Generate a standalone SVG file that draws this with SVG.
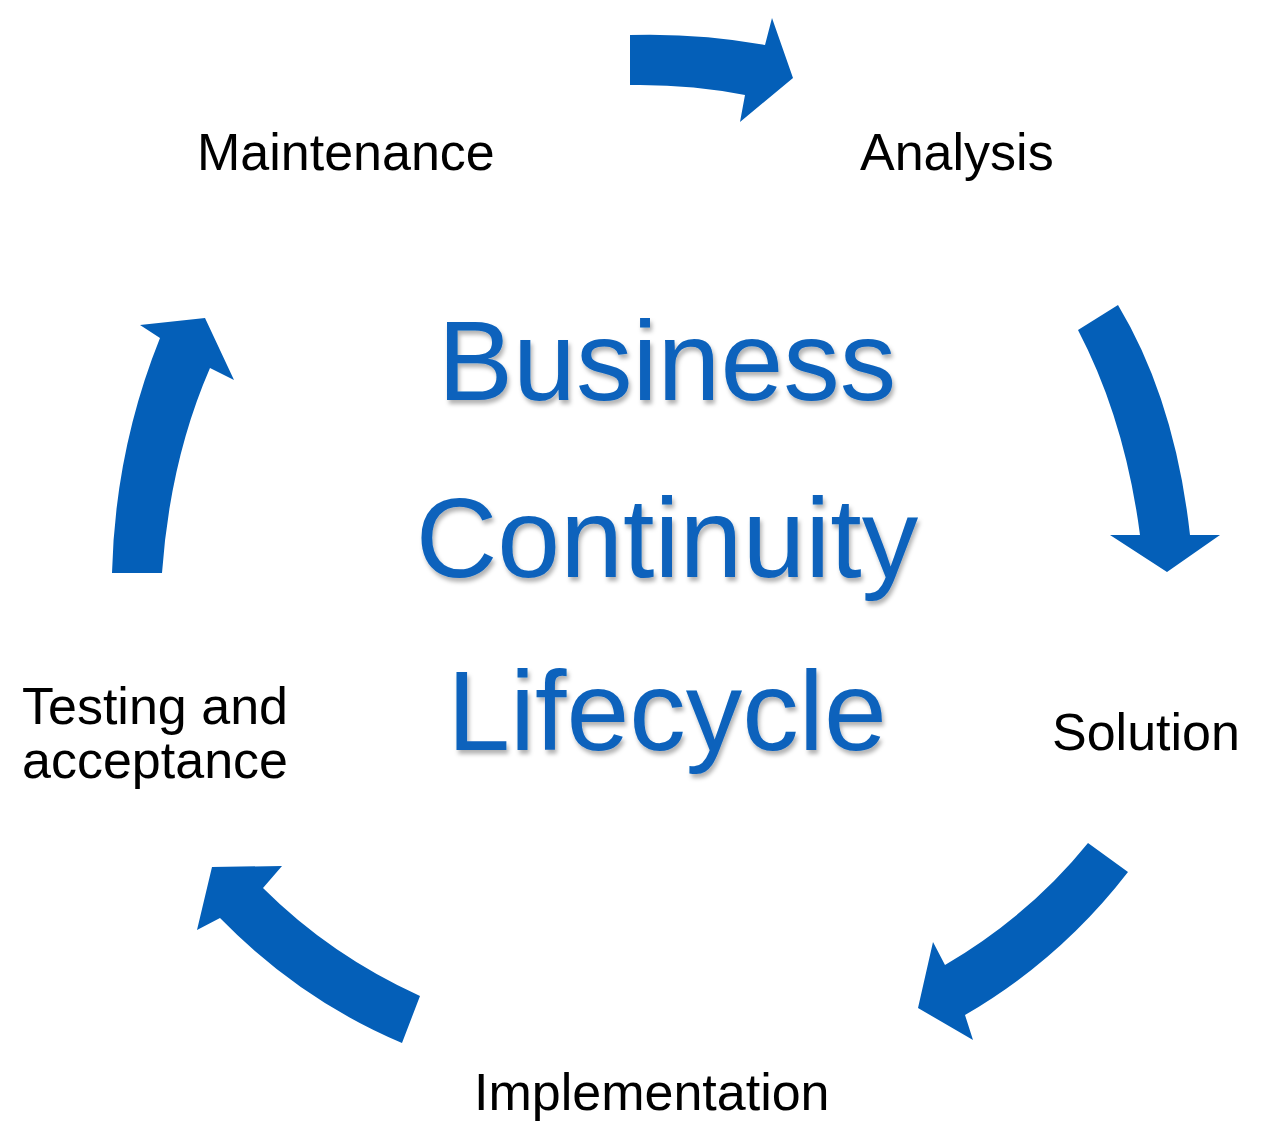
<svg xmlns="http://www.w3.org/2000/svg" width="1264" height="1127" viewBox="0 0 1264 1127">
<defs>
<style>
.arr{fill:#045FB8}
.lbl{font-family:"Liberation Sans",Arial,sans-serif;font-size:52px;fill:#000}
.title{font-family:"Liberation Sans",Arial,sans-serif;font-size:113px;fill:#0B62BC;text-anchor:middle}
</style>
<filter id="sh" x="-10%" y="-10%" width="120%" height="130%"><feDropShadow dx="2" dy="4" stdDeviation="2" flood-color="#000" flood-opacity="0.3"/></filter>
</defs>
<rect width="1264" height="1127" fill="#fff"/>
<g id="connectors">
<path class="arr" d="M630,35 Q700,33 765,45 L772,18 L793,78 L740,122 L745,95 Q690,84 630,85 Z"/>
<path class="arr" d="M1078,330 L1118,305 Q1175,400 1190,535 L1220,535 L1167,572 L1110,535 L1140,535 Q1125,420 1078,330 Z"/>
<path class="arr" d="M1088,843 L1128,872 Q1060,960 965,1015 L973,1040 L918,1008 L933,942 L945,965 Q1030,915 1088,843 Z"/>
<path class="arr" d="M420,996 L402,1043 Q300,1000 220,918 L197,930 L212,867 L282,866 L263,888 Q330,955 420,996 Z"/>
<path class="arr" d="M112,573 Q115,450 160,338 L140,325 L205,318 L234,380 L210,368 Q170,460 162,573 Z"/>
</g>
<g id="title" filter="url(#sh)">
<text class="title" x="667" y="400">Business</text>
<text class="title" x="667" y="577">Continuity</text>
<text class="title" x="667" y="750">Lifecycle</text>
</g>
<g id="maintenance"><text class="lbl" x="197" y="170">Maintenance</text></g>
<g id="analysis"><text class="lbl" x="860" y="170">Analysis</text></g>
<g id="solution"><text class="lbl" x="1052" y="750">Solution</text></g>
<g id="implementation"><text class="lbl" x="474" y="1110">Implementation</text></g>
<g id="testing"><text class="lbl" x="22" y="724">Testing and</text><text class="lbl" x="22" y="778">acceptance</text></g>
</svg>
